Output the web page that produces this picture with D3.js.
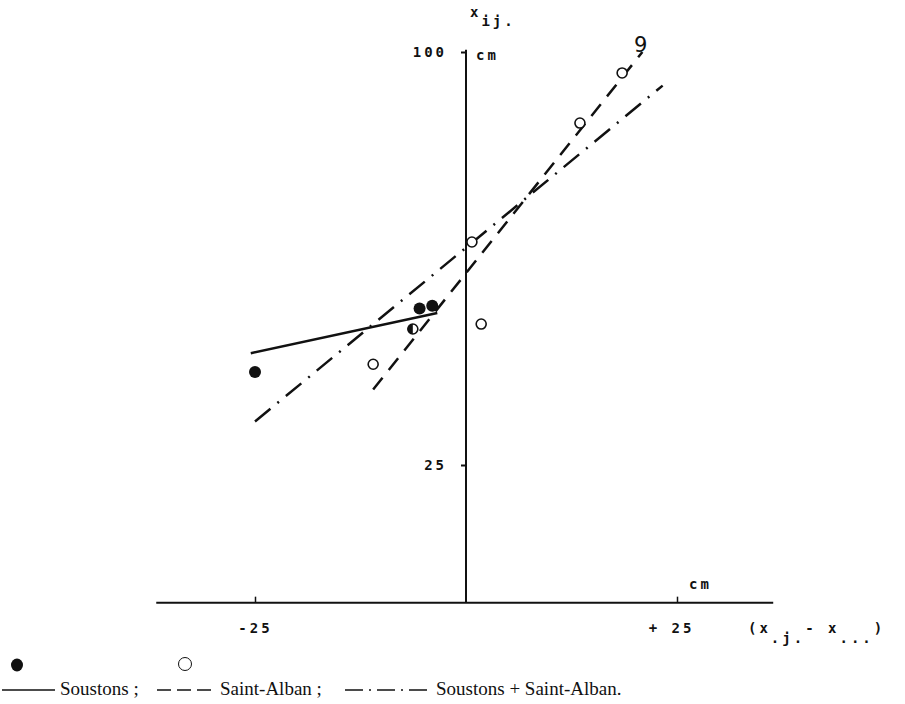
<!DOCTYPE html>
<html>
<head>
<meta charset="utf-8">
<script src="https://cdn.jsdelivr.net/npm/d3@7/dist/d3.min.js"></script>
<style>
  body { margin: 0; background: #fff; }
  .mono { font-family: "DejaVu Sans Mono", "Liberation Mono", monospace; font-weight: bold; font-size: 14px; letter-spacing: 3px; fill: #111; }
  .legend { font-family: "Liberation Serif", "DejaVu Serif", serif; font-size: 19px; fill: #111; }
</style>
</head>
<body>
<div id="chart"></div>
<script>
"use strict"
// Soustons (filled points)
var soustonsX = [-25.0, -5.5, -4.0]
var soustonsY = [41.9, 53.4, 53.9]
// Saint-Alban (open points)
var saintAlbanX = [-11.0, 0.7, 1.8, 13.5, 18.5]
var saintAlbanY = [43.3, 65.5, 50.6, 87.1, 96.2]
// point shared by both (half filled)
var bothX = [-6.3]
var bothY = [49.7]
// regression lines, end points [x, y]
var soustonsLine = [[-25.5, 45.3], [-3.4, 52.6]]
var saintAlbanLine = [[-11.0, 38.7], [20.9, 100.0]]
var combinedLine = [[-25.0, 32.9], [23.3, 93.9]]
// axes
var xTicks = [-25, 25]
var yTicks = [25, 100]
var xExtent = [-36.7, 36.4]
var yExtent = [0, 100.4]
var legendItems = ["Soustons ;", "Saint-Alban ;", "Soustons + Saint-Alban."]

var width = 905
var height = 704

var xScale = d3.scaleLinear().domain([-25, 25]).range([255, 677])
var yScale = d3.scaleLinear().domain([25, 100]).range([465, 52])

var svg = d3.select("#chart").append("svg")
    .attr("width", width)
    .attr("height", height)

svg.append("rect").attr("width", width).attr("height", height).attr("fill", "#fff")

// axis lines
svg.append("line")
    .attr("x1", xScale(xExtent[0])).attr("x2", xScale(xExtent[1]))
    .attr("y1", yScale(0)).attr("y2", yScale(0))
    .attr("stroke", "#111").attr("stroke-width", 2)
svg.append("line")
    .attr("x1", xScale(0)).attr("x2", xScale(0))
    .attr("y1", yScale(yExtent[0])).attr("y2", yScale(yExtent[1]))
    .attr("stroke", "#111").attr("stroke-width", 2)

// x axis ticks
var xAxis = d3.axisBottom(xScale)
    .tickValues(xTicks)
    .tickSize(-6)
    .tickPadding(20)
    .tickFormat(function(d) { return d < 0 ? "-25" : "+ 25" })
var gx = svg.append("g")
    .attr("transform", "translate(0," + yScale(0) + ")")
    .call(xAxis)
gx.select(".domain").remove()
gx.selectAll(".tick line").attr("stroke", "#111").attr("stroke-width", 1.5)
gx.selectAll(".tick text").attr("class", "mono").attr("font-size", null).attr("font-family", null)
    .attr("dx", function(d) { return d > 0 ? -6 : 0 })

// y axis ticks
var yAxis = d3.axisLeft(yScale)
    .tickValues(yTicks)
    .tickSize(5)
    .tickPadding(14)
var gy = svg.append("g")
    .attr("transform", "translate(" + xScale(0) + ",0)")
    .call(yAxis)
gy.select(".domain").remove()
gy.selectAll(".tick line").attr("stroke", "#111").attr("stroke-width", 2)
gy.selectAll(".tick text").attr("class", "mono").attr("font-size", null).attr("font-family", null)

// axis titles
var yTitle = svg.append("text").attr("class", "mono").attr("x", xScale(0) + 4).attr("y", 17)
yTitle.append("tspan").text("x")
yTitle.append("tspan").attr("dy", 9).text("ij.")

svg.append("text").attr("class", "mono").attr("x", xScale(0) + 10).attr("y", yScale(100) + 8).text("cm")
svg.append("text").attr("class", "mono").attr("x", xScale(25) + 12).attr("y", yScale(0) - 14).text("cm")

var xTitle = svg.append("text").attr("class", "mono").attr("x", 748).attr("y", 633)
xTitle.append("tspan").text("(x")
xTitle.append("tspan").attr("dy", 10).text(".j.")
xTitle.append("tspan").attr("dy", -10).text("- x")
xTitle.append("tspan").attr("dy", 10).text("...")
xTitle.append("tspan").attr("dy", -10).text(")")

svg.append("text")
    .attr("x", 634).attr("y", 52)
    .attr("font-family", "DejaVu Sans, sans-serif")
    .attr("font-size", 21)
    .attr("fill", "#111")
    .text("9")

// regression lines
var line = d3.line()
    .x(function(d) { return xScale(d[0]) })
    .y(function(d) { return yScale(d[1]) })

svg.append("path").datum(soustonsLine)
    .attr("d", line).attr("fill", "none")
    .attr("stroke", "#111").attr("stroke-width", 2.5)
svg.append("path").datum(saintAlbanLine)
    .attr("d", line).attr("fill", "none")
    .attr("stroke", "#111").attr("stroke-width", 2.5)
    .attr("stroke-dasharray", "15,10")
svg.append("path").datum(combinedLine)
    .attr("d", line).attr("fill", "none")
    .attr("stroke", "#111").attr("stroke-width", 2.5)
    .attr("stroke-dasharray", "20,9,2,9")

// points
var sData = soustonsX.map(function(d, i) { return [d, soustonsY[i]] })
var aData = saintAlbanX.map(function(d, i) { return [d, saintAlbanY[i]] })
var bData = bothX.map(function(d, i) { return [d, bothY[i]] })

svg.selectAll(".open").data(aData).enter().append("circle")
    .attr("class", "open")
    .attr("cx", function(d) { return xScale(d[0]) })
    .attr("cy", function(d) { return yScale(d[1]) })
    .attr("r", 5)
    .attr("fill", "#fff").attr("stroke", "#111").attr("stroke-width", 1.6)

svg.selectAll(".filled").data(sData).enter().append("circle")
    .attr("class", "filled")
    .attr("cx", function(d) { return xScale(d[0]) })
    .attr("cy", function(d) { return yScale(d[1]) })
    .attr("r", 6)
    .attr("fill", "#111")

var both = svg.selectAll(".both").data(bData).enter().append("g")
    .attr("transform", function(d) { return "translate(" + xScale(d[0]) + "," + yScale(d[1]) + ")" })
both.append("circle").attr("r", 5).attr("fill", "#fff").attr("stroke", "#111").attr("stroke-width", 1.6)
both.append("path").attr("d", d3.arc()({innerRadius: 0, outerRadius: 5, startAngle: Math.PI, endAngle: 2 * Math.PI})).attr("fill", "#111")

// legend
var ly = 690
svg.append("line").attr("x1", 2).attr("x2", 55).attr("y1", ly).attr("y2", ly)
    .attr("stroke", "#111").attr("stroke-width", 1.5)
svg.append("ellipse").attr("cx", 17).attr("cy", 665).attr("rx", 6).attr("ry", 6.5).attr("fill", "#111")
svg.append("text").attr("class", "legend").attr("x", 60).attr("y", ly + 5).text(legendItems[0])

svg.append("line").attr("x1", 157).attr("x2", 213).attr("y1", ly).attr("y2", ly)
    .attr("stroke", "#111").attr("stroke-width", 1.5).attr("stroke-dasharray", "14,6")
svg.append("circle").attr("cx", 185).attr("cy", 664).attr("r", 6.5)
    .attr("fill", "none").attr("stroke", "#111").attr("stroke-width", 1)
svg.append("text").attr("class", "legend").attr("x", 220).attr("y", ly + 5).text(legendItems[1])

svg.append("line").attr("x1", 345).attr("x2", 430).attr("y1", ly).attr("y2", ly)
    .attr("stroke", "#111").attr("stroke-width", 1.5).attr("stroke-dasharray", "18,6,2,6")
svg.append("text").attr("class", "legend").attr("x", 436).attr("y", ly + 5).text(legendItems[2])
</script>
</body>
</html>
